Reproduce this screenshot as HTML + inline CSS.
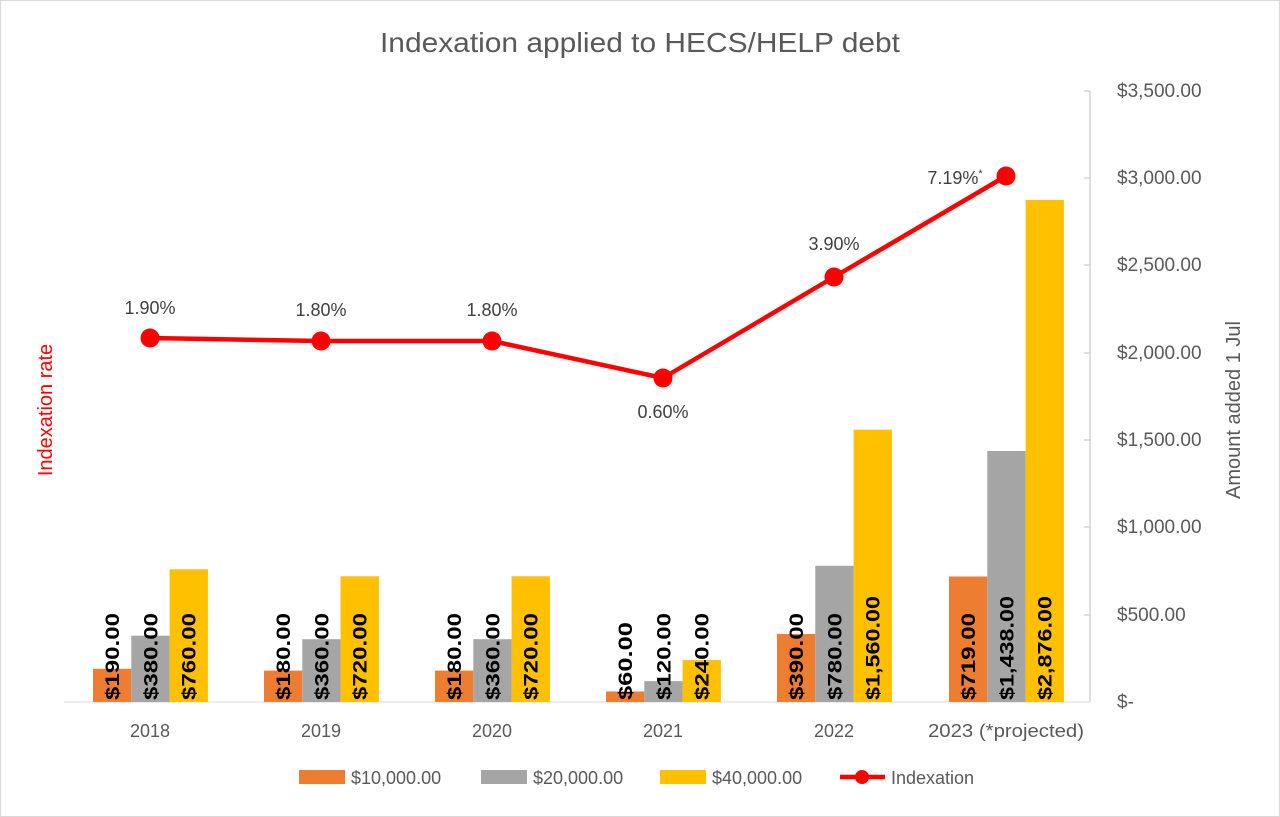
<!DOCTYPE html>
<html><head><meta charset="utf-8"><style>
body{margin:0;background:#fff}
svg{display:block;font-family:"Liberation Sans",sans-serif}
</style></head><body>
<svg width="1280" height="817" viewBox="0 0 1280 817">
<rect x="0.5" y="0.5" width="1279" height="816" fill="#fff" stroke="#d9d9d9"/>
<text x="640" y="52" text-anchor="middle" font-size="28" fill="#595959" textLength="520" lengthAdjust="spacingAndGlyphs">Indexation applied to HECS/HELP debt</text>
<line x1="1090" y1="91" x2="1090" y2="702" stroke="#bfbfbf"/>
<g stroke="#bfbfbf">
<line x1="1084" y1="91" x2="1090" y2="91"/><line x1="1084" y1="178" x2="1090" y2="178"/>
<line x1="1084" y1="265" x2="1090" y2="265"/><line x1="1084" y1="353" x2="1090" y2="353"/>
<line x1="1084" y1="440" x2="1090" y2="440"/><line x1="1084" y1="527" x2="1090" y2="527"/>
<line x1="1084" y1="615" x2="1090" y2="615"/><line x1="1084" y1="702" x2="1090" y2="702"/>
</g>
<line x1="64" y1="702" x2="1090" y2="702" stroke="#d9d9d9"/>
<g font-size="19" fill="#595959">
<text x="1117" y="97">$3,500.00</text><text x="1117" y="184">$3,000.00</text>
<text x="1117" y="271">$2,500.00</text><text x="1117" y="359">$2,000.00</text>
<text x="1117" y="446">$1,500.00</text><text x="1117" y="533">$1,000.00</text>
<text x="1117" y="621">$500.00</text><text x="1117" y="708">$-</text>
</g>
<text transform="translate(1240,410) rotate(-90)" text-anchor="middle" font-size="20" fill="#595959">Amount added 1 Jul</text>
<text transform="translate(52,410) rotate(-90)" text-anchor="middle" font-size="20" fill="#ff0000">Indexation rate</text>
<g>
<rect x="93" y="668.8" width="38.3" height="33.2" fill="#ed7d31"/>
<rect x="131.3" y="635.7" width="38.3" height="66.3" fill="#a5a5a5"/>
<rect x="169.6" y="569.3" width="38.3" height="132.7" fill="#ffc000"/>
<rect x="264" y="670.6" width="38.3" height="31.4" fill="#ed7d31"/>
<rect x="302.3" y="639.2" width="38.3" height="62.8" fill="#a5a5a5"/>
<rect x="340.6" y="576.3" width="38.3" height="125.7" fill="#ffc000"/>
<rect x="435" y="670.6" width="38.3" height="31.4" fill="#ed7d31"/>
<rect x="473.3" y="639.2" width="38.3" height="62.8" fill="#a5a5a5"/>
<rect x="511.6" y="576.3" width="38.3" height="125.7" fill="#ffc000"/>
<rect x="606" y="691.5" width="38.3" height="10.5" fill="#ed7d31"/>
<rect x="644.3" y="681.1" width="38.3" height="20.9" fill="#a5a5a5"/>
<rect x="682.6" y="660.1" width="38.3" height="41.9" fill="#ffc000"/>
<rect x="777" y="633.9" width="38.3" height="68.1" fill="#ed7d31"/>
<rect x="815.3" y="565.8" width="38.3" height="136.2" fill="#a5a5a5"/>
<rect x="853.6" y="429.7" width="38.3" height="272.3" fill="#ffc000"/>
<rect x="949" y="576.5" width="38.3" height="125.5" fill="#ed7d31"/>
<rect x="987.3" y="451" width="38.3" height="251" fill="#a5a5a5"/>
<rect x="1025.6" y="199.9" width="38.3" height="502.1" fill="#ffc000"/>
</g>
<g font-size="19" font-weight="bold" fill="#000">
<text transform="translate(119,700) rotate(-90)" textLength="87" lengthAdjust="spacingAndGlyphs">$190.00</text>
<text transform="translate(157.3,700) rotate(-90)" textLength="87" lengthAdjust="spacingAndGlyphs">$380.00</text>
<text transform="translate(195.6,700) rotate(-90)" textLength="87" lengthAdjust="spacingAndGlyphs">$760.00</text>
<text transform="translate(290,700) rotate(-90)" textLength="87" lengthAdjust="spacingAndGlyphs">$180.00</text>
<text transform="translate(328.3,700) rotate(-90)" textLength="87" lengthAdjust="spacingAndGlyphs">$360.00</text>
<text transform="translate(366.6,700) rotate(-90)" textLength="87" lengthAdjust="spacingAndGlyphs">$720.00</text>
<text transform="translate(461,700) rotate(-90)" textLength="87" lengthAdjust="spacingAndGlyphs">$180.00</text>
<text transform="translate(499.3,700) rotate(-90)" textLength="87" lengthAdjust="spacingAndGlyphs">$360.00</text>
<text transform="translate(537.6,700) rotate(-90)" textLength="87" lengthAdjust="spacingAndGlyphs">$720.00</text>
<text transform="translate(632,700) rotate(-90)" textLength="78" lengthAdjust="spacingAndGlyphs">$60.00</text>
<text transform="translate(670.3,700) rotate(-90)" textLength="87" lengthAdjust="spacingAndGlyphs">$120.00</text>
<text transform="translate(708.6,700) rotate(-90)" textLength="87" lengthAdjust="spacingAndGlyphs">$240.00</text>
<text transform="translate(803,700) rotate(-90)" textLength="87" lengthAdjust="spacingAndGlyphs">$390.00</text>
<text transform="translate(841.3,700) rotate(-90)" textLength="87" lengthAdjust="spacingAndGlyphs">$780.00</text>
<text transform="translate(879.6,700) rotate(-90)" textLength="104" lengthAdjust="spacingAndGlyphs">$1,560.00</text>
<text transform="translate(975,700) rotate(-90)" textLength="87" lengthAdjust="spacingAndGlyphs">$719.00</text>
<text transform="translate(1013.3,700) rotate(-90)" textLength="104" lengthAdjust="spacingAndGlyphs">$1,438.00</text>
<text transform="translate(1051.6,700) rotate(-90)" textLength="104" lengthAdjust="spacingAndGlyphs">$2,876.00</text>
</g>
<g font-size="18" fill="#595959" text-anchor="middle">
<text x="150" y="737">2018</text><text x="321" y="737">2019</text><text x="492" y="737">2020</text>
<text x="663" y="737">2021</text><text x="834" y="737">2022</text><text x="1006" y="737" textLength="156" lengthAdjust="spacingAndGlyphs">2023 (*projected)</text>
</g>
<polyline points="150,338 321,341 492,341 663,378 834,277 1006,176" fill="none" stroke="#ff0000" stroke-width="4.5" stroke-linejoin="round"/>
<g fill="#ff0000">
<circle cx="150" cy="338" r="9.5"/><circle cx="321" cy="341" r="9.5"/><circle cx="492" cy="341" r="9.5"/>
<circle cx="663" cy="378" r="9.5"/><circle cx="834" cy="277" r="9.5"/><circle cx="1006" cy="176" r="9.5"/>
</g>
<g font-size="18" fill="#404040" text-anchor="middle">
<text x="150" y="314">1.90%</text><text x="321" y="316">1.80%</text><text x="492" y="316">1.80%</text>
<text x="663" y="418">0.60%</text><text x="834" y="250">3.90%</text>
<text x="955" y="184">7.19%<tspan font-size="11" dy="-7">*</tspan></text>
</g>
<g font-size="18" fill="#595959">
<rect x="299" y="770" width="46" height="14" fill="#ed7d31"/><text x="351" y="784">$10,000.00</text>
<rect x="481" y="770" width="46" height="14" fill="#a5a5a5"/><text x="533" y="784">$20,000.00</text>
<rect x="660" y="770" width="46" height="14" fill="#ffc000"/><text x="712" y="784">$40,000.00</text>
<line x1="840" y1="777" x2="885" y2="777" stroke="#ff0000" stroke-width="4.5"/><circle cx="862" cy="777" r="7" fill="#ff0000"/>
<text x="891" y="784">Indexation</text>
</g>
</svg>
</body></html>
